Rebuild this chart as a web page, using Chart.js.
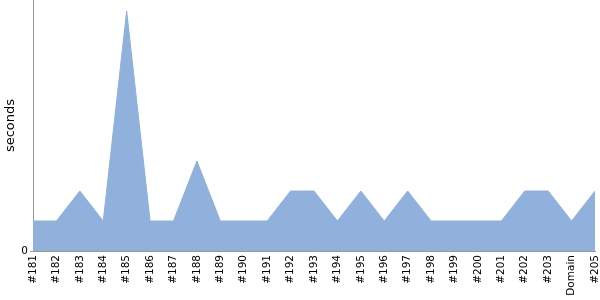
<!DOCTYPE html>
<html>
<head>
<meta charset="utf-8">
<script src="https://cdn.jsdelivr.net/npm/chart.js@4"></script>
<style>
  html, body { margin: 0; padding: 0; background: #fff; }
  #wrap { width: 600px; height: 300px; }
</style>
</head>
<body>
<div id="wrap"><canvas id="timeChart"></canvas></div>
<script>
const builds = ["#181", "#182", "#183", "#184", "#185", "#186", "#187", "#188", "#189", "#190",
  "#191", "#192", "#193", "#194", "#195", "#196", "#197", "#198", "#199", "#200",
  "#201", "#202", "#203", "Domain", "#205"];
const durations = [1, 1, 2, 1, 8, 1, 1, 3, 1, 1, 1, 2, 2, 1, 2, 1, 2, 1, 1, 1, 1, 2, 2, 1, 2];
const yTicks = [0];

Chart.defaults.font.family = "'DejaVu Sans', Verdana, sans-serif";
Chart.defaults.font.size = 10;
Chart.defaults.color = "#000";

const ctx = document.getElementById("timeChart").getContext("2d");

const myChart = new Chart(ctx, {
  type: "line",
  data: {
    labels: builds,
    datasets: [
      {
        label: "seconds",
        data: durations,
        fill: "origin",
        backgroundColor: "#8fb1dc",
        borderColor: "#8fb1dc",
        borderWidth: 1,
        pointRadius: 0,
        tension: 0,
      },
    ],
  },
  options: {
    responsive: true,
    maintainAspectRatio: false,
    animation: false,
    layout: { padding: { top: 0, right: 5, left: 0, bottom: 0 } },
    plugins: {
      legend: { display: false },
      tooltip: { enabled: false },
    },
    scales: {
      x: {
        offset: false,
        grid: { display: false, drawTicks: false },
        border: { display: true, color: "#999" },
        ticks: {
          autoSkip: false,
          maxRotation: 90,
          minRotation: 90,
          padding: 4,
          font: { size: 10.5 },
        },
        afterFit: (scale) => {
          scale.height = 49;
          scale.paddingLeft = 0;
          scale.paddingRight = 0;
        },
      },
      y: {
        min: 0,
        max: 8.37,
        afterBuildTicks: (scale) => { scale.ticks = yTicks.map((v) => ({ value: v })); },
        grid: { drawOnChartArea: false, drawTicks: true, tickLength: 3, color: "#999" },
        border: { display: true, color: "#999" },
        ticks: { padding: 2, font: { size: 10.5 } },
        title: {
          display: true,
          text: "seconds",
          font: { size: 13 },
          padding: { top: 3, bottom: 4 },
        },
        afterFit: (scale) => {
          scale.width = 33;
          scale.paddingTop = 0;
          scale.paddingBottom = 0;
        },
      },
    },
  },
});
</script>
</body>
</html>
